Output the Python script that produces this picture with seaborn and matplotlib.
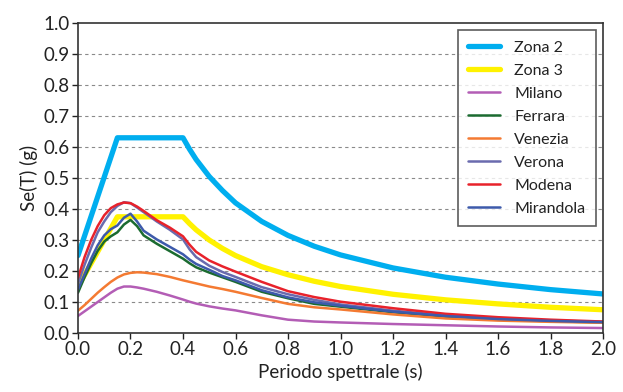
import matplotlib
matplotlib.use("Agg")
import matplotlib.pyplot as plt
import seaborn as sns
import pandas as pd

# --- data ---
T_zone = [0.0, 0.15, 0.4, 0.425, 0.45, 0.5, 0.55, 0.6, 0.7, 0.8, 0.9, 1.0, 1.2, 1.4, 1.6, 1.8, 2.0]
zona2 = [0.25, 0.63, 0.63, 0.593, 0.56, 0.505, 0.46, 0.42, 0.36, 0.315, 0.28, 0.252, 0.21, 0.18, 0.158, 0.14, 0.126]
zona3 = [0.15, 0.375, 0.375, 0.353, 0.333, 0.30, 0.273, 0.25, 0.214, 0.188, 0.167, 0.15, 0.125, 0.107, 0.094, 0.083, 0.075]

T_city = [0.0, 0.025, 0.05, 0.075, 0.1, 0.125, 0.15, 0.175, 0.2, 0.225, 0.25, 0.3, 0.35, 0.4,
          0.425, 0.45, 0.5, 0.55, 0.6, 0.7, 0.8, 0.9, 1.0, 1.2, 1.4, 1.6, 1.8, 2.0]
milano = [0.055, 0.07, 0.085, 0.10, 0.115, 0.13, 0.143, 0.150, 0.150, 0.147, 0.143, 0.133, 0.121, 0.108,
          0.101, 0.095, 0.086, 0.079, 0.073, 0.057, 0.043, 0.037, 0.034, 0.029, 0.025, 0.021, 0.018, 0.016]
ferrara = [0.13, 0.18, 0.225, 0.265, 0.295, 0.312, 0.325, 0.35, 0.365, 0.345, 0.315, 0.288, 0.264, 0.24,
           0.225, 0.212, 0.195, 0.18, 0.165, 0.133, 0.112, 0.094, 0.085, 0.067, 0.053, 0.044, 0.038, 0.034]
venezia = [0.072, 0.09, 0.11, 0.13, 0.148, 0.165, 0.179, 0.189, 0.194, 0.196, 0.195, 0.19, 0.181, 0.17,
           0.165, 0.16, 0.15, 0.142, 0.133, 0.113, 0.094, 0.083, 0.076, 0.060, 0.047, 0.040, 0.036, 0.033]
verona = [0.16, 0.22, 0.275, 0.325, 0.36, 0.39, 0.41, 0.422, 0.419, 0.405, 0.39, 0.36, 0.333, 0.302,
          0.27, 0.245, 0.217, 0.197, 0.181, 0.148, 0.125, 0.107, 0.092, 0.072, 0.057, 0.047, 0.040, 0.036]
modena = [0.178, 0.245, 0.30, 0.345, 0.38, 0.403, 0.415, 0.421, 0.419, 0.408, 0.394, 0.364, 0.34, 0.312,
          0.285, 0.262, 0.234, 0.215, 0.198, 0.165, 0.135, 0.116, 0.101, 0.080, 0.062, 0.051, 0.043, 0.037]
mirandola = [0.14, 0.19, 0.24, 0.283, 0.315, 0.335, 0.347, 0.372, 0.385, 0.36, 0.33, 0.302, 0.278, 0.254,
             0.237, 0.223, 0.204, 0.184, 0.17, 0.138, 0.115, 0.099, 0.088, 0.069, 0.055, 0.045, 0.039, 0.035]

names = ["Zona 2", "Zona 3", "Milano", "Ferrara", "Venezia", "Verona", "Modena", "Mirandola"]
series = [zona2, zona3, milano, ferrara, venezia, verona, modena, mirandola]
xs = [T_zone, T_zone] + [T_city] * 6
colors = ["#00AEEF", "#FFF200", "#B35DB5", "#1B6B30", "#F47A32", "#6A6BAE", "#E8222B", "#3D5AAB"]
widths = [3.8, 3.8, 1.8, 1.8, 1.8, 1.8, 1.8, 1.8]

rows = []
for n, x, s in zip(names, xs, series):
    for t, v in zip(x, s):
        rows.append({"T": t, "Se": v, "serie": n})
df = pd.DataFrame(rows)

sns.set_style("white")
plt.rcParams["font.family"] = ["Lato", "DejaVu Sans"]

fig = plt.figure(figsize=(6.23, 3.92), dpi=100)
ax = fig.add_axes([0.1252, 0.1505, 0.8427, 0.7905])

for n, c, w in zip(names, colors, widths):
    sns.lineplot(data=df[df["serie"] == n], x="T", y="Se", color=c, lw=w, label=n,
                 ax=ax, sort=False, estimator=None, solid_joinstyle="round")

ax.set_xlim(0, 2.0)
ax.set_ylim(0, 1.0)
ax.set_xticks([i * 0.2 for i in range(11)])
ax.set_yticks([i * 0.1 for i in range(11)])
ax.set_xticklabels([f"{i*0.2:.1f}" for i in range(11)])
ax.set_yticklabels([f"{i*0.1:.1f}" for i in range(11)])
ax.tick_params(axis="both", labelsize=13.5, colors="#222222", length=4, width=1, direction="out",
               bottom=True, left=True, pad=2)
for y in [i * 0.1 for i in range(1, 10)]:
    ax.axhline(y, color="#8a8a8a", lw=0.8, ls=(0, (3, 3)), zorder=0)
for sp in ax.spines.values():
    sp.set_color("#333333")
    sp.set_linewidth(1.2)
    sp.set_visible(True)

ax.set_xlabel("Periodo spettrale (s)", fontsize=13.5, color="#222222", labelpad=3)
ax.set_ylabel("Se(T) (g)", fontsize=13.5, color="#222222", labelpad=4)

leg = ax.legend(loc="upper right", fontsize=11.5, frameon=True, fancybox=False,
                handlelength=2.0, handletextpad=0.9, labelspacing=0.55,
                borderaxespad=0.45, borderpad=0.65)
leg.get_frame().set_edgecolor("#333333")
leg.get_frame().set_linewidth(1.2)
for t in leg.get_texts():
    t.set_color("#222222")

fig.savefig("out.png", dpi=100)
